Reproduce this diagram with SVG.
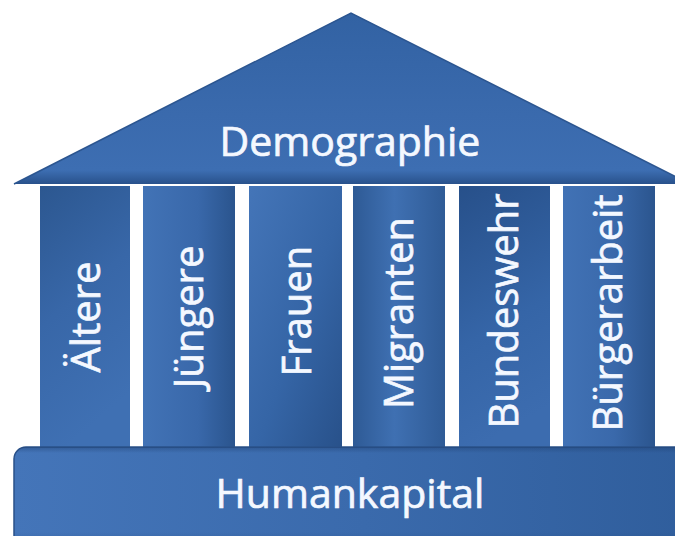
<svg xmlns="http://www.w3.org/2000/svg" width="675" height="536" viewBox="0 0 675 536">
  <defs>
    <linearGradient id="roofFill" x1="0" y1="0" x2="0" y2="1">
      <stop offset="0" stop-color="#3262a3"/>
      <stop offset="0.6" stop-color="#3a6aad"/>
      <stop offset="0.92" stop-color="#3d6eb2"/>
      <stop offset="1" stop-color="#28518b"/>
    </linearGradient>
    <linearGradient id="baseH" x1="0" y1="0" x2="1" y2="0">
      <stop offset="0" stop-color="#4475b9"/>
      <stop offset="0.5" stop-color="#3a6aac"/>
      <stop offset="1" stop-color="#2f5d9b"/>
    </linearGradient>
    <linearGradient id="baseV" x1="0" y1="0" x2="0" y2="1">
      <stop offset="0" stop-color="#1e3f70" stop-opacity="0.45"/>
      <stop offset="0.06" stop-color="#1e3f70" stop-opacity="0"/>
      <stop offset="0.85" stop-color="#1e3f70" stop-opacity="0"/>
      <stop offset="1" stop-color="#1e3f70" stop-opacity="0.3"/>
    </linearGradient>
    <!-- column shadings -->
    <linearGradient id="col1" x1="0" y1="0" x2="0.3" y2="1">
      <stop offset="0" stop-color="#2c5790"/>
      <stop offset="0.5" stop-color="#3867a8"/>
      <stop offset="1" stop-color="#3f70b3"/>
    </linearGradient>
    <linearGradient id="col2" x1="0" y1="0" x2="1" y2="0">
      <stop offset="0" stop-color="#4273b6"/>
      <stop offset="0.6" stop-color="#3968aa"/>
      <stop offset="1" stop-color="#2a548d"/>
    </linearGradient>
    <linearGradient id="col3" x1="0" y1="0" x2="1" y2="1">
      <stop offset="0" stop-color="#4475b8"/>
      <stop offset="0.55" stop-color="#3565a6"/>
      <stop offset="1" stop-color="#28518a"/>
    </linearGradient>
    <linearGradient id="col4" x1="0" y1="0" x2="1" y2="0">
      <stop offset="0" stop-color="#2e5a95"/>
      <stop offset="0.45" stop-color="#3f70b2"/>
      <stop offset="1" stop-color="#2f5b96"/>
    </linearGradient>
    <linearGradient id="col5" x1="0" y1="0" x2="0.2" y2="1">
      <stop offset="0" stop-color="#27508a"/>
      <stop offset="0.6" stop-color="#3565a7"/>
      <stop offset="1" stop-color="#3c6caf"/>
    </linearGradient>
    <linearGradient id="col6" x1="0" y1="0" x2="1" y2="0">
      <stop offset="0" stop-color="#4172b5"/>
      <stop offset="0.55" stop-color="#3a69ab"/>
      <stop offset="1" stop-color="#2b558e"/>
    </linearGradient>
  </defs>
  <style>
    .lbl { font-family: "Open Sans", "Noto Sans", "Liberation Sans", sans-serif; fill: #f4f8ff; stroke: #f4f8ff; stroke-width: 0.7px; text-anchor: middle; }
    .big { font-size: 41px; }
    .col-lbl { font-size: 40px; }
  </style>

  <!-- roof -->
  <g id="roof">
    <polygon points="14,184 351,13 690,184" fill="url(#roofFill)"/>
    <polyline points="14,184 351,13 690,184" fill="none" stroke="#2b5590" stroke-width="1.5"/>
    <text class="lbl big" x="350" y="156">Demographie</text>
  </g>

  <!-- pillars -->
  <g id="pillar-aeltere">
    <rect x="40" y="186" width="90" height="261" fill="url(#col1)"/>
    <text class="lbl col-lbl" transform="translate(100,317) rotate(-90)">Ältere</text>
  </g>
  <g id="pillar-juengere">
    <rect x="143" y="186" width="92" height="261" fill="url(#col2)"/>
    <text class="lbl col-lbl" transform="translate(203,317) rotate(-90)">Jüngere</text>
  </g>
  <g id="pillar-frauen">
    <rect x="249" y="186" width="93" height="261" fill="url(#col3)"/>
    <text class="lbl col-lbl" transform="translate(311,311) rotate(-90)">Frauen</text>
  </g>
  <g id="pillar-migranten">
    <rect x="353" y="186" width="92" height="261" fill="url(#col4)"/>
    <text class="lbl col-lbl" transform="translate(413,313) rotate(-90)">Migranten</text>
  </g>
  <g id="pillar-bundeswehr">
    <rect x="459" y="186" width="91" height="261" fill="url(#col5)"/>
    <text class="lbl col-lbl" transform="translate(518,311) rotate(-90)">Bundeswehr</text>
  </g>
  <g id="pillar-buergerarbeit">
    <rect x="563" y="186" width="92" height="261" fill="url(#col6)"/>
    <text class="lbl col-lbl" transform="translate(622,313) rotate(-90)">Bürgerarbeit</text>
  </g>

  <!-- foundation -->
  <g id="base">
    <rect x="14" y="447" width="700" height="100" rx="12" fill="url(#baseH)" stroke="#2a5189" stroke-width="1.5"/>
    <rect x="14" y="447" width="700" height="100" rx="12" fill="url(#baseV)"/>
    <text class="lbl big" x="350" y="508">Humankapital</text>
  </g>

  <g id="connectors"/>
</svg>
